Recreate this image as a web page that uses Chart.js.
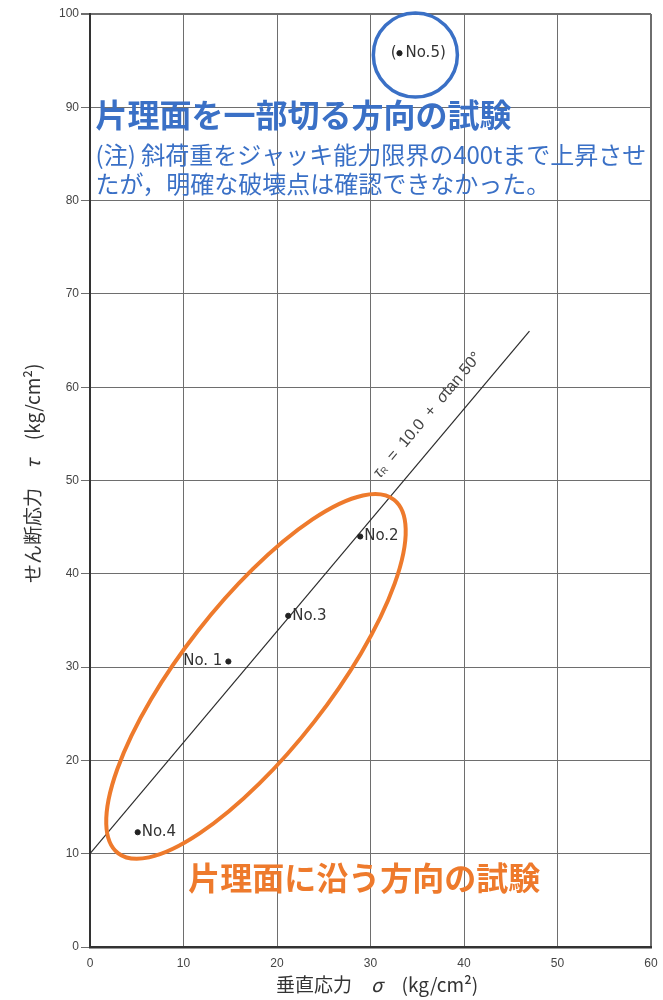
<!DOCTYPE html>
<html>
<head>
<meta charset="utf-8">
<script src="https://cdn.jsdelivr.net/npm/chart.js@4.4.1/dist/chart.umd.min.js"></script>
<style>
  html, body { margin: 0; padding: 0; background: #fff; }
  #wrap { width: 663px; height: 1000px; }
</style>
</head>
<body>
<div id="wrap"><canvas id="c" width="663" height="1000"></canvas></div>
<script>
// Test results: normal stress σ and shear stress τ (kg/cm²)
const pointNames  = ['No.1', 'No.2', 'No.3', 'No.4', 'No.5'];
const sigmaValues = [14.8, 28.9, 21.2, 5.1, 33.1];
const tauValues   = [30.6, 44.0, 35.5, 12.3, 95.8];

// Strength line τR = 10.0 + σ tan 50°, drawn between its two ends
const fitSigma = [0, 47.0];
const fitTau   = [10.0, 66.0];

// Axis tick labels
const xTickLabels = ['0', '10', '20', '30', '40', '50', '60'];
const yTickLabels = ['0', '10', '20', '30', '40', '50', '60', '70', '80', '90', '100'];

const JP = '"Noto Sans CJK JP", "Noto Sans", sans-serif';
const LAT = '"Liberation Sans", Arial, sans-serif';
const BLUE = '#3a70c6';
const ORANGE = '#ee7a2c';

// draw a run of text pieces with individual fonts / vertical shifts
function drawRuns(ctx, x, y, parts) {
  let cx = x;
  for (const p of parts) {
    ctx.font = p.font;
    ctx.fillText(p.t, cx, y + (p.dy || 0));
    cx += ctx.measureText(p.t).width;
  }
  return cx - x;
}
function measureRuns(ctx, parts) {
  let w = 0;
  for (const p of parts) { ctx.font = p.font; w += ctx.measureText(p.t).width; }
  return w;
}

const annotations = {
  id: 'annotations',
  afterDatasetsDraw(chart) {
    const ctx = chart.ctx;
    const xs = chart.scales.x, ys = chart.scales.y;
    const X = v => xs.getPixelForValue(v);
    const Y = v => ys.getPixelForValue(v);
    const unit = ((X(10) - X(0)) + (Y(0) - Y(10))) / 20; // px per data unit

    ctx.save();

    // orange ellipse around the tests along the schistosity
    ctx.strokeStyle = ORANGE;
    ctx.lineWidth = 4;
    ctx.beginPath();
    ctx.ellipse(X(17.75), Y(29.0), 24.0 * unit, 7.9 * unit, -52 * Math.PI / 180, 0, Math.PI * 2);
    ctx.stroke();

    // blue circle around No.5
    ctx.strokeStyle = BLUE;
    ctx.lineWidth = 3.5;
    ctx.beginPath();
    ctx.arc(X(34.8), Y(95.6), 4.5 * unit, 0, Math.PI * 2);
    ctx.stroke();

    // point labels
    ctx.fillStyle = '#333';
    ctx.font = '15px "DejaVu Sans", sans-serif';
    ctx.textBaseline = 'middle';
    pointNames.forEach((name, i) => {
      const px = X(sigmaValues[i]), py = Y(tauValues[i]);
      if (name === 'No.1') {
        ctx.textAlign = 'right';
        ctx.fillText('No. 1', px - 6, py);
      } else if (name === 'No.5') {
        ctx.textAlign = 'right';
        ctx.fillText('(', px - 3, py);
        ctx.textAlign = 'left';
        ctx.fillText('No.5)', px + 6, py);
      } else {
        ctx.textAlign = 'left';
        ctx.fillText(name, px + 4, py);
      }
    });

    // equation label along the strength line
    const ang = Math.atan2(Y(fitTau[1]) - Y(fitTau[0]), X(fitSigma[1]) - X(fitSigma[0]));
    const eq = [
      { t: 'τ', font: 'italic 16px ' + LAT },
      { t: 'R', font: '9px ' + LAT, dy: 3 },
      { t: '  =  10.0  +  ', font: '16px ' + LAT },
      { t: 'σ', font: 'italic 16px ' + LAT },
      { t: 'tan 50°', font: '16px ' + LAT }
    ];
    ctx.save();
    ctx.translate(X(36.1), Y(57.0));
    ctx.rotate(ang);
    ctx.fillStyle = '#444';
    ctx.textAlign = 'left';
    ctx.textBaseline = 'middle';
    drawRuns(ctx, -measureRuns(ctx, eq) / 2, 0, eq);
    ctx.restore();

    // blue heading and note
    ctx.textAlign = 'left';
    ctx.textBaseline = 'middle';
    ctx.fillStyle = BLUE;
    ctx.font = 'bold 32px ' + JP;
    ctx.fillText('片理面を一部切る方向の試験', X(0.6), Y(89.2));
    ctx.font = '24px ' + JP;
    ctx.fillText('(注) 斜荷重をジャッキ能力限界の400tまで上昇させ', X(0.6), Y(84.9));
    ctx.fillText('たが，明確な破壊点は確認できなかった。', X(0.6), Y(81.8));

    // orange heading
    ctx.fillStyle = ORANGE;
    ctx.font = 'bold 32px ' + JP;
    ctx.fillText('片理面に沿う方向の試験', X(10.5), Y(7.4));

    // axis titles
    ctx.fillStyle = '#333';
    const xTitle = [
      { t: '垂直応力\u3000', font: '19px ' + JP },
      { t: 'σ', font: 'italic 19px ' + JP },
      { t: '\u3000(kg/cm²)', font: '19px ' + JP }
    ];
    drawRuns(ctx, 276, 985, xTitle);

    const yTitle = [
      { t: 'せん断応力\u3000', font: '19px ' + JP },
      { t: 'τ', font: 'italic 19px ' + JP },
      { t: '\u3000(kg/cm²)', font: '19px ' + JP }
    ];
    ctx.save();
    ctx.translate(33, 583);
    ctx.rotate(-Math.PI / 2);
    drawRuns(ctx, 0, 0, yTitle);
    ctx.restore();

    ctx.restore();
  }
};

const gridColor = '#6e6e6e';

new Chart(document.getElementById('c'), {
  data: {
    datasets: [
      {
        type: 'line',
        data: fitSigma.map((s, i) => ({ x: s, y: fitTau[i] })),
        borderColor: '#2b2b2b',
        borderWidth: 1.2,
        pointRadius: 0,
        fill: false,
        order: 2
      },
      {
        type: 'scatter',
        data: sigmaValues.map((s, i) => ({ x: s, y: tauValues[i] })),
        backgroundColor: '#222',
        borderColor: '#222',
        pointRadius: 2.6,
        order: 1
      }
    ]
  },
  options: {
    responsive: false,
    animation: false,
    devicePixelRatio: 1,
    layout: { padding: { top: 14, right: 12, left: 0, bottom: 0 } },
    plugins: { legend: { display: false }, tooltip: { enabled: false } },
    scales: {
      x: {
        type: 'linear',
        min: 0, max: 60,
        ticks: {
          stepSize: 10,
          padding: 9,
          color: '#444',
          font: { family: 'Liberation Sans', size: 12 },
          callback: v => xTickLabels[Math.round(v / 10)]
        },
        grid: {
          color: gridColor,
          lineWidth: c => (c.tick && c.tick.value === 60 ? 2 : 1),
          drawTicks: false
        },
        border: { display: true, color: '#333', width: 2.5 },
        afterFit(s) { s.height = 53; s.paddingRight = 0; s.paddingLeft = 0; }
      },
      y: {
        type: 'linear',
        min: 0, max: 100,
        ticks: {
          stepSize: 10,
          padding: 2,
          color: '#444',
          font: { family: 'Liberation Sans', size: 12 },
          callback: v => yTickLabels[Math.round(v / 10)]
        },
        grid: {
          color: gridColor,
          lineWidth: c => (c.tick && c.tick.value === 100 ? 2 : 1),
          tickLength: 9,
          drawTicks: true
        },
        border: { display: true, color: '#333', width: 2 },
        afterFit(s) { s.width = 90; s.paddingTop = 0; s.paddingBottom = 0; }
      }
    }
  },
  plugins: [annotations]
});
</script>
</body>
</html>
